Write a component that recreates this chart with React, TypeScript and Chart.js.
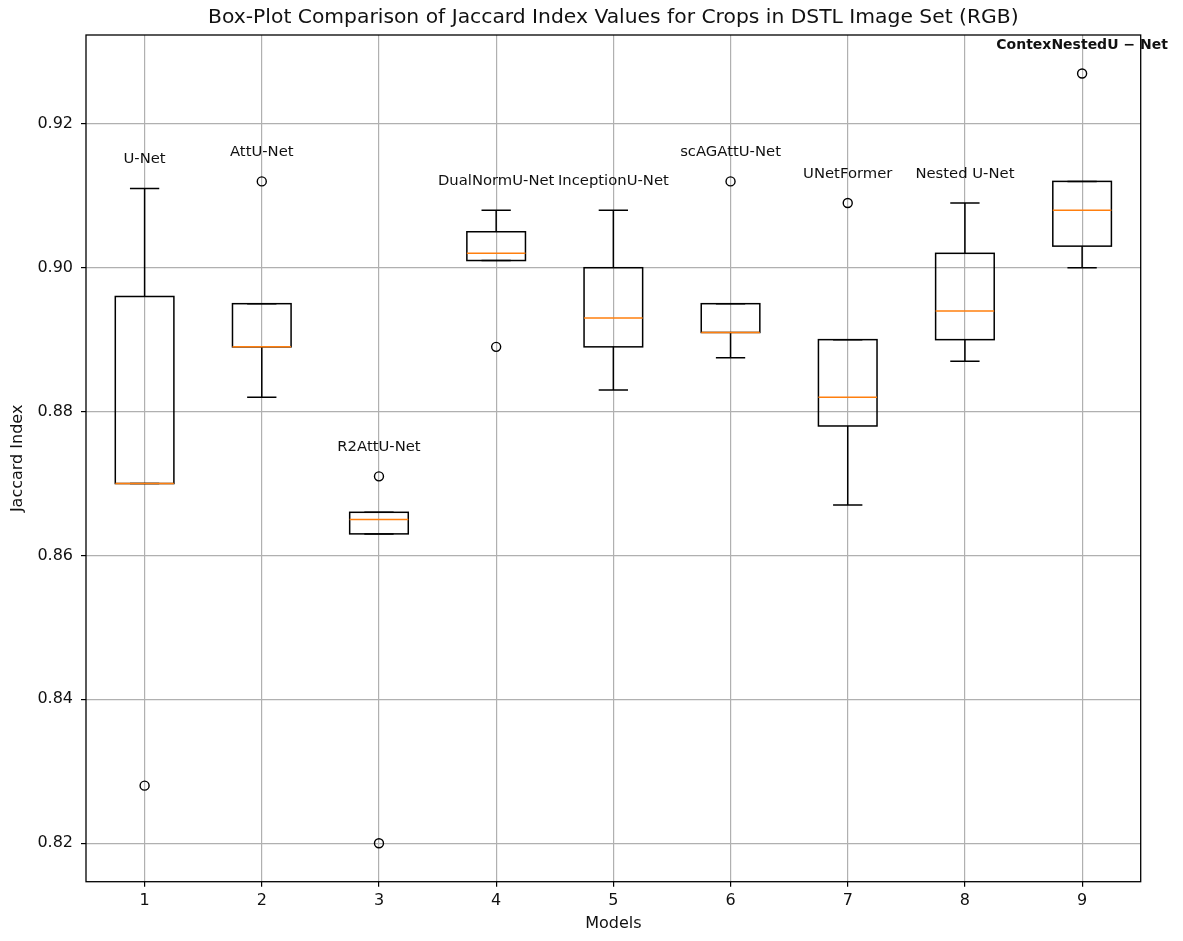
import React, { useEffect, useRef } from 'react';
import { Chart, registerables } from 'chart.js';

Chart.register(...registerables);

// ---- Data ----
const models = [
  'U-Net',
  'AttU-Net',
  'R2AttU-Net',
  'DualNormU-Net',
  'InceptionU-Net',
  'scAGAttU-Net',
  'UNetFormer',
  'Nested U-Net',
  'ContexNestedU − Net',
];
const positions = [1, 2, 3, 4, 5, 6, 7, 8, 9];
const whiskerLow = [0.870, 0.882, 0.863, 0.901, 0.883, 0.8875, 0.867, 0.887, 0.900];
const q1 = [0.870, 0.889, 0.863, 0.901, 0.889, 0.891, 0.878, 0.890, 0.903];
const median = [0.870, 0.889, 0.865, 0.902, 0.893, 0.891, 0.882, 0.894, 0.908];
const q3 = [0.896, 0.895, 0.866, 0.905, 0.900, 0.895, 0.890, 0.902, 0.912];
const whiskerHigh = [0.911, 0.895, 0.866, 0.908, 0.908, 0.895, 0.890, 0.909, 0.912];
const outliers: number[][] = [[0.828], [0.912], [0.871, 0.820], [0.889], [], [0.912], [0.909], [], [0.927]];
const boldLabel = [false, false, false, false, false, false, false, false, true];

const yTicks = [0.82, 0.84, 0.86, 0.88, 0.90, 0.92];
const xTicks = [1, 2, 3, 4, 5, 6, 7, 8, 9];
const xTickLabels = ['1', '2', '3', '4', '5', '6', '7', '8', '9'];

const titleText = 'Box-Plot Comparison of Jaccard Index Values for Crops in DSTL Image Set (RGB)';
const xTitle = 'Models';
const yTitle = 'Jaccard Index';

const FONT = "'DejaVu Sans', 'Noto Sans', sans-serif";

export default function App() {
  const ref = useRef<HTMLCanvasElement | null>(null);

  useEffect(() => {
    if (!ref.current) return;

    const allVals: number[] = [];
    positions.forEach((_, i) => {
      allVals.push(whiskerLow[i], whiskerHigh[i], ...outliers[i]);
    });
    const lo = Math.min(...allVals);
    const hi = Math.max(...allVals);
    const margin = (hi - lo) * 0.05;

    const outlierPoints: { x: number; y: number }[] = [];
    positions.forEach((p, i) => outliers[i].forEach((v) => outlierPoints.push({ x: p, y: v })));

    const boxPlugin = {
      id: 'boxplot',
      beforeDatasetsDraw(chart: any) {
        const { ctx, chartArea } = chart;
        ctx.save();
        ctx.strokeStyle = '#000';
        ctx.lineWidth = 1.3;
        ctx.strokeRect(chartArea.left, chartArea.top, chartArea.right - chartArea.left, chartArea.bottom - chartArea.top);
        // title centred over the plot area
        ctx.fillStyle = '#111';
        ctx.textAlign = 'center';
        ctx.textBaseline = 'middle';
        ctx.font = `20.3px ${FONT}`;
        ctx.fillText(titleText, (chartArea.left + chartArea.right) / 2, chartArea.top - 17);
        ctx.restore();
      },
      afterDatasetsDraw(chart: any) {
        const { ctx } = chart;
        const xs = chart.scales.x;
        const ys = chart.scales.y;
        ctx.save();
        ctx.lineWidth = 1.5;
        positions.forEach((p, i) => {
          const cx = xs.getPixelForValue(p);
          const half = xs.getPixelForValue(p + 0.25) - cx;
          const cap = half / 2;
          const yQ1 = ys.getPixelForValue(q1[i]);
          const yQ3 = ys.getPixelForValue(q3[i]);
          const yMed = ys.getPixelForValue(median[i]);
          const yLo = ys.getPixelForValue(whiskerLow[i]);
          const yHi = ys.getPixelForValue(whiskerHigh[i]);
          ctx.strokeStyle = '#000';
          // box
          ctx.strokeRect(cx - half, yQ3, 2 * half, yQ1 - yQ3);
          ctx.beginPath();
          // whiskers
          ctx.moveTo(cx, yQ3); ctx.lineTo(cx, yHi);
          ctx.moveTo(cx, yQ1); ctx.lineTo(cx, yLo);
          // caps
          ctx.moveTo(cx - cap, yHi); ctx.lineTo(cx + cap, yHi);
          ctx.moveTo(cx - cap, yLo); ctx.lineTo(cx + cap, yLo);
          ctx.stroke();
          // median on top
          ctx.strokeStyle = '#ff7f0e';
          ctx.beginPath();
          ctx.moveTo(cx - half, yMed); ctx.lineTo(cx + half, yMed);
          ctx.stroke();

          // label above
          const top = Math.max(whiskerHigh[i], ...outliers[i]);
          const ty = ys.getPixelForValue(top + 0.003);
          ctx.fillStyle = '#111';
          ctx.textAlign = 'center';
          ctx.textBaseline = 'bottom';
          ctx.font = boldLabel[i] ? `bold 14px ${FONT}` : `14.8px ${FONT}`;
          ctx.fillText(models[i], cx, ty);
        });
        ctx.restore();
      },
    };

    const chart = new Chart(ref.current, {
      type: 'scatter',
      data: {
        datasets: [
          {
            label: 'Outliers',
            data: outlierPoints,
            pointStyle: 'circle',
            pointRadius: 4.5,
            pointBorderWidth: 1.4,
            borderColor: '#000',
            backgroundColor: 'rgba(0,0,0,0)',
            pointBackgroundColor: 'rgba(0,0,0,0)',
            pointBorderColor: '#000',
          },
        ],
      },
      options: {
        responsive: false,
        animation: false,
        devicePixelRatio: 1,
        layout: { padding: { left: 0, right: 42.3, top: 35, bottom: 0 } },
        plugins: {
          legend: { display: false },
          tooltip: { enabled: false },
          title: { display: false },
        },
        scales: {
          x: {
            type: 'linear',
            min: 0.5,
            max: 9.5,
            afterBuildTicks: (scale: any) => {
              scale.ticks = xTicks.map((v) => ({ value: v }));
            },
            afterFit: (scale: any) => {
              scale.height = 59.3;
            },
            grid: {
              color: 'rgba(176,176,176,1)',
              lineWidth: 1.2,
              tickColor: '#000',
              tickLength: 5,
              tickWidth: 1.2,
            },
            border: { display: false },
            ticks: {
              color: '#111',
              font: { family: FONT, size: 16 },
              padding: 5,
              callback: (v: any) => {
                const idx = xTicks.indexOf(Number(v));
                return idx >= 0 ? xTickLabels[idx] : '';
              },
            },
            title: {
              display: true,
              text: xTitle,
              color: '#111',
              font: { family: FONT, size: 16 },
              padding: { top: 0, bottom: 7.4 },
            },
          },
          y: {
            type: 'linear',
            min: lo - margin,
            max: hi + margin,
            afterBuildTicks: (scale: any) => {
              scale.ticks = yTicks.map((v) => ({ value: v }));
            },
            afterFit: (scale: any) => {
              scale.width = 86;
            },
            grid: {
              color: 'rgba(176,176,176,1)',
              lineWidth: 1.2,
              tickColor: '#000',
              tickLength: 5,
              tickWidth: 1.2,
            },
            border: { display: false },
            ticks: {
              color: '#111',
              font: { family: FONT, size: 16 },
              padding: 8,
              callback: (v: any) => Number(v).toFixed(2),
            },
            title: {
              display: true,
              text: yTitle,
              color: '#111',
              font: { family: FONT, size: 16 },
              padding: { top: 8, bottom: 0 },
            },
          },
        },
      },
      plugins: [boxPlugin],
    } as any);

    return () => chart.destroy();
  }, []);

  return (
    <div style={{ position: 'fixed', left: 0, top: 0, width: 1183, height: 941, background: '#fff' }}>
      <canvas ref={ref} width={1183} height={941} style={{ display: 'block', width: 1183, height: 941 }} />
    </div>
  );
}
